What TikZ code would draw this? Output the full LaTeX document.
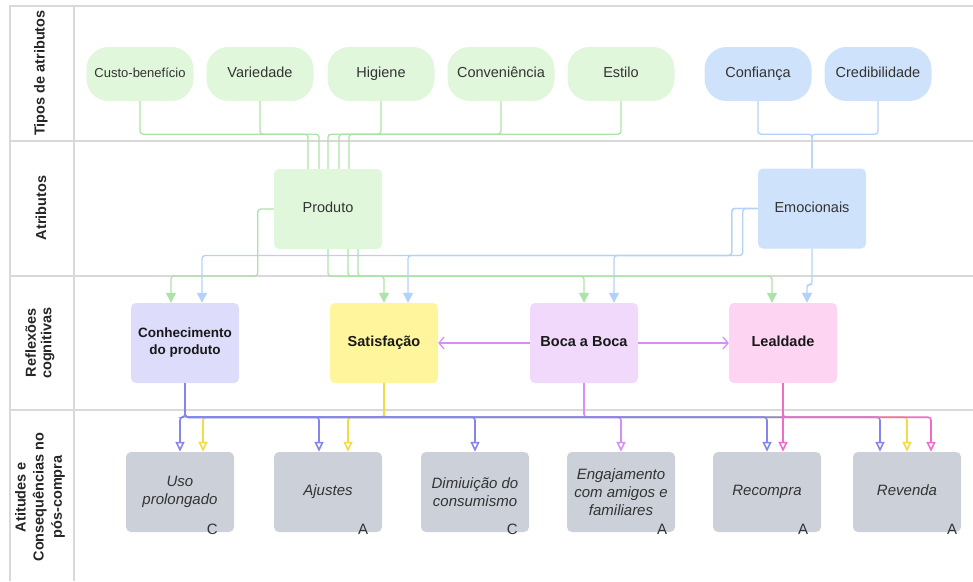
\documentclass[tikz,border=0pt]{standalone}
\usepackage{fontspec}
\setmainfont{Liberation Sans}
\usetikzlibrary{arrows.meta}
\definecolor{verdeclaro}{HTML}{E0F7DB}
\definecolor{azulclaro}{HTML}{CFE2FB}
\definecolor{verdelinha}{HTML}{ADE3A8}
\definecolor{azullinha}{HTML}{B3D2F7}
\definecolor{lilas}{HTML}{DEDCFB}
\definecolor{amarelo}{HTML}{FFF59C}
\definecolor{rosa}{HTML}{F1D9FB}
\definecolor{rosaclaro}{HTML}{FDD4F2}
\definecolor{cinza}{HTML}{CCD1D9}
\definecolor{faixa}{HTML}{D9D9D9}
\definecolor{roxo}{HTML}{8585EE}
\definecolor{ouro}{HTML}{F4DA45}
\definecolor{violeta}{HTML}{D98EF5}
\definecolor{magentab}{HTML}{F06BCB}
\definecolor{texto}{HTML}{333333}
\tikzset{
  pilula/.style={rounded corners=22pt, minimum width=107pt, minimum height=54pt, inner sep=2pt, text height=10.5pt, text depth=3pt, text=texto, font=\fontsize{14.5}{17}\selectfont},
  caixa/.style={rounded corners=5pt, minimum width=108pt, minimum height=80pt, align=center, inner sep=2pt},
  umalinha/.style={text height=10.5pt, text depth=3pt},
  reflexao/.style={caixa, font=\bfseries\fontsize{14.5}{17}\selectfont, text=black!90},
  atitude/.style={caixa, fill=cinza, font=\itshape\fontsize{15}{18}\selectfont, text=texto},
  faixatit/.style={rotate=90, align=center, font=\bfseries\fontsize{14.5}{17}\selectfont, text=black!85},
  letra/.style={font=\fontsize{15}{17}\selectfont, text=texto, inner sep=0pt},
  lverde/.style={draw=verdelinha, line width=1.3pt, rounded corners=3pt},
  lazul/.style={draw=azullinha, line width=1.3pt, rounded corners=3pt},
  lroxo/.style={draw=roxo, line width=1.6pt, rounded corners=3pt},
  louro/.style={draw=ouro, line width=1.6pt, rounded corners=3pt},
  lvioleta/.style={draw=violeta, line width=1.6pt, rounded corners=3pt},
  lpink/.style={draw=magentab, line width=1.6pt, rounded corners=3pt},
  setacheia/.style={-{Triangle[length=10pt,width=10pt]}},
  setaaberta/.style={-{Triangle[open,length=10pt,width=9pt,fill=white]}}
}
\begin{document}
\begin{tikzpicture}[x=1pt,y=-1pt]
  \useasboundingbox (0,0) rectangle (973,581);
  %faixas
  \draw[faixa, line width=1.2pt] (10,581) -- (10,6) -- (973,6);
  \draw[faixa, line width=1.2pt] (74,6) -- (74,581);
  \foreach \y in {141,276,410}
    \draw[faixa, line width=1.2pt] (10,\y) -- (973,\y);
  \node[faixatit] (ftipos) at (41,73) {Tipos de atributos};
  \node[faixatit] (fatrib) at (41,208) {Atributos};
  \node[faixatit, font=\bfseries\fontsize{14.5}{15.5}\selectfont] (frefl) at (40,343) {Reflexões\\cognitivas};
  \node[faixatit, font=\bfseries\fontsize{14.5}{18}\selectfont] (fatit) at (40,497) {Atitudes e\\Consequências no\\pós-compra};
  %tipos de atributos
  \node[pilula, fill=verdeclaro, font=\fontsize{13}{15}\selectfont] (custo) at (140,74) {Custo-benefício};
  \node[pilula, fill=verdeclaro] (varied) at (260,74) {Variedade};
  \node[pilula, fill=verdeclaro] (higi) at (381,74) {Higiene};
  \node[pilula, fill=verdeclaro] (conv) at (501,74) {Conveniência};
  \node[pilula, fill=verdeclaro] (estilo) at (621,74) {Estilo};
  \node[pilula, fill=azulclaro] (conf) at (758,74) {Confiança};
  \node[pilula, fill=azulclaro] (cred) at (878,74) {Credibilidade};
  %atributos
  \node[caixa, umalinha, fill=verdeclaro, text=texto, font=\fontsize{14.5}{17}\selectfont] (prod) at (328,209) {Produto};
  \node[caixa, umalinha, fill=azulclaro, text=texto, font=\fontsize{14.5}{17}\selectfont] (emoc) at (812,208.5) {Emocionais};
  %reflexoes cognitivas
  \node[reflexao, fill=lilas, font=\bfseries\fontsize{13.5}{17}\selectfont] (conh) at (185,343) {Conhecimento\\do produto};
  \node[reflexao, umalinha, fill=amarelo] (sat) at (384,343) {Satisfação};
  \node[reflexao, umalinha, fill=rosa] (boca) at (584,343) {Boca a Boca};
  \node[reflexao, umalinha, fill=rosaclaro] (leal) at (783,343) {Lealdade};
  %atitudes e consequencias
  \node[atitude] (uso) at (180,492) {Uso\\prolongado};
  \node[atitude, umalinha] (ajus) at (328,492) {Ajustes};
  \node[atitude] (dim) at (475,492) {Dimiuição do\\consumismo};
  \node[atitude] (eng) at (621,492) {Engajamento\\com amigos e\\familiares};
  \node[atitude, umalinha] (recp) at (767,492) {Recompra};
  \node[atitude, umalinha] (rev) at (907,492) {Revenda};
  \node[letra] (luso) at ([xshift=-22pt,yshift=3pt]uso.south east) {C};
  \node[letra] (lajus) at ([xshift=-19pt,yshift=3pt]ajus.south east) {A};
  \node[letra] (ldim) at ([xshift=-17pt,yshift=3pt]dim.south east) {C};
  \node[letra] (leng) at ([xshift=-13pt,yshift=3pt]eng.south east) {A};
  \node[letra] (lrecp) at ([xshift=-18pt,yshift=3pt]recp.south east) {A};
  \node[letra] (lrev) at ([xshift=-9pt,yshift=3pt]rev.south east) {A};
  %tipos -> atributos
  \foreach \n/\d in {custo/-20, varied/-9, estilo/0, conv/11, higi/21}
    \draw[lverde] (\n.south) -- ++(0,33) -| ([xshift=\d pt]prod.north);
  \foreach \n in {conf,cred}
    \draw[lazul] (\n.south) -- ++(0,33) -| (emoc.north);
  %atributos -> reflexoes
  \draw[lverde,setacheia] (prod.west) -- ++(-16,0) -- ++(0,67) -| ([xshift=-14pt]conh.north);
  \draw[lverde,setacheia] (prod.south) -- ++(0,27) -| (sat.north);
  \draw[lverde,setacheia] ([xshift=20pt]prod.south) -- ++(0,27) -| (boca.north);
  \draw[lverde,setacheia] ([xshift=30pt]prod.south) -- ++(0,27) -| ([xshift=-11pt]leal.north);
  \draw[lazul,setacheia] (emoc.west) -- ++(-26,0) -- ++(0,47) -| ([xshift=17pt]conh.north);
  \draw[lazul,setacheia] (emoc.west) -- ++(-26,0) -- ++(0,47) -| ([xshift=24pt]sat.north);
  \draw[lazul,setacheia] (emoc.west) -- ++(-15,0) -- ++(0,47) -| ([xshift=30pt]boca.north);
  \draw[lazul,setacheia] (emoc.south) -- ++(0,36) -| ([xshift=24pt]leal.north);
  %boca a boca
  \draw[violeta, line width=1.3pt, -{Straight Barb[length=5pt,width=12pt]}] (boca.west) -- (sat.east);
  \draw[violeta, line width=1.3pt, -{Straight Barb[length=5pt,width=12pt]}] (boca.east) -- (leal.west);
  %reflexoes -> atitudes
  \foreach \a/\d in {uso/23, ajus/20, rev/0}
    \draw[louro,setaaberta] (sat.south) -- ++(0,34) -| ([xshift=\d pt]\a.north);
  \draw[lvioleta,setaaberta] (boca.south) -- ++(0,34) -| (eng.north);
  \foreach \a/\d in {uso/0, ajus/-9, dim/0, recp/0, rev/-27}
    \draw[lroxo,setaaberta] (conh.south) -- ++(0,34) -| ([xshift=\d pt]\a.north);
  \draw[lpink,setaaberta] (leal.south) -- ([xshift=16pt]recp.north);
  \draw[lpink,setaaberta] (leal.south) -- ++(0,34) -| ([xshift=24pt]rev.north);
\end{tikzpicture}
\end{document}
